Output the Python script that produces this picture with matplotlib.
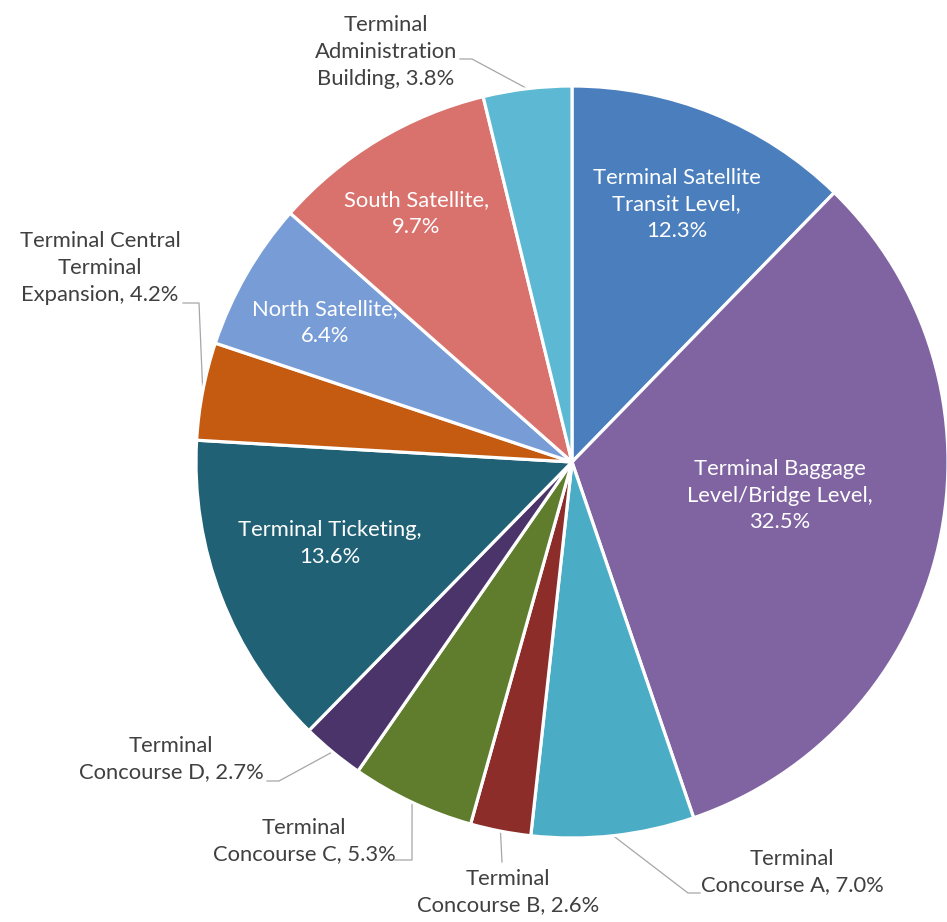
import numpy as np
import matplotlib.pyplot as plt

plt.rcParams['font.family'] = ['Lato', 'DejaVu Sans']

# share of total by terminal area, clockwise from 12 o'clock
areas = ['Terminal Satellite\nTransit Level', 'Terminal Baggage\nLevel/Bridge Level',
         'Terminal\nConcourse A', 'Terminal\nConcourse B', 'Terminal\nConcourse C',
         'Terminal\nConcourse D', 'Terminal Ticketing', 'Terminal Central\nTerminal\nExpansion',
         'North Satellite', 'South Satellite', 'Terminal\nAdministration\nBuilding']
shares = [12.3, 32.5, 7.0, 2.6, 5.3, 2.7, 13.6, 4.2, 6.4, 9.7, 3.8]

colors = ['#4A7EBD', '#8064A2', '#4BACC6', '#8C2D2A', '#5F7D2D', '#4B3469',
          '#216176', '#C55A11', '#779CD6', '#D9716D', '#5DB9D3']

W, H = 947, 922
cx, cy, R = 572, H - 462, 376

fig = plt.figure(figsize=(W / 100, H / 100), dpi=100)
ax = fig.add_axes([0, 0, 1, 1])

wedges, _ = ax.pie(shares, colors=colors, startangle=90, counterclock=False,
                   center=(cx, cy), radius=R,
                   wedgeprops=dict(edgecolor='white', linewidth=2.3))
ax.set_xlim(0, W)
ax.set_ylim(0, H)
ax.set_aspect('equal')
ax.axis('off')

# labels inside the big slices: (index, radius fraction, angle nudge)
inside = {0: (0.74, 0.0), 1: (0.56, 3.5), 6: (0.68, -2.5), 8: (0.755, 0.5), 9: (0.78, 1.0)}

# labels outside with leader lines: text centre and elbow points (pixel coords, y down)
outside = {
    10: ((386, 52), [(460, 59), (472, 59)]),
    7: ((100, 268), [(183, 303), (199, 303)]),
    5: ((171, 759), [(267, 781), (279, 781)]),
    4: ((304, 841), [(395, 860), (412, 860)]),
    3: ((508, 892), [(502, 862)]),
    2: ((792, 872), [(700, 893), (688, 893)]),
}

fs = 15.8
for i, w in enumerate(wedges):
    mid = np.deg2rad((w.theta1 + w.theta2) / 2)
    label = '%s, %.1f%%' % (areas[i], shares[i])
    if i in inside:
        frac, nudge = inside[i]
        a = mid + np.deg2rad(nudge)
        x, y = cx + frac * R * np.cos(a), cy + frac * R * np.sin(a)
        if i in (0, 1):
            label = '%s,\n%.1f%%' % (areas[i], shares[i])
        else:
            label = '%s,\n%.1f%%' % (areas[i], shares[i])
        ax.text(x, y, label, color='white', fontsize=fs, ha='center', va='center',
                linespacing=1.42)
    else:
        (tx, ty), elbows = outside[i]
        ax.text(tx, H - ty, label, color='#404040', fontsize=fs, ha='center',
                va='center', linespacing=1.42)
        ex, ey = cx + R * np.cos(mid), cy + R * np.sin(mid)
        xs = [p[0] for p in elbows] + [ex]
        ys = [H - p[1] for p in elbows] + [ey]
        ax.plot(xs, ys, color='#A6A6A6', linewidth=0.9, zorder=0)

fig.savefig('out.png', dpi=100)
